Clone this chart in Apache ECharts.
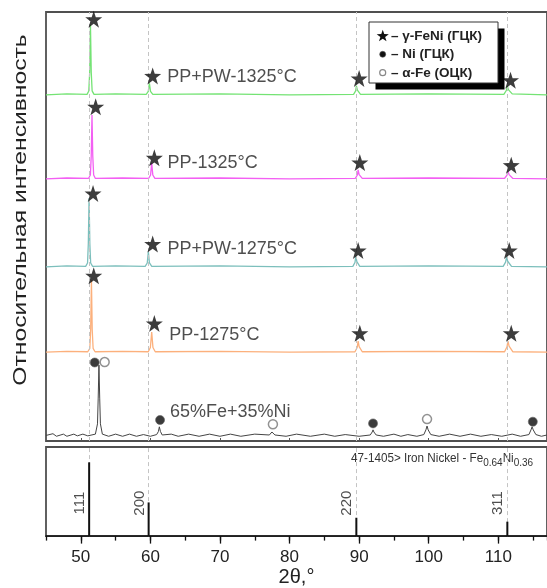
<!DOCTYPE html>
<html><head><meta charset="utf-8">
<script src="https://cdn.jsdelivr.net/npm/echarts@6/dist/echarts.min.js"></script>
<style>html,body{margin:0;padding:0;background:#fff}#c{width:547px;height:588px}</style>
</head><body><div id="c"></div>
<script>
// ---------- DATA ----------
const xTickLabels = [50, 60, 70, 80, 90, 100, 110];
const traceNames = ['PP+PW-1325°C', 'PP-1325°C', 'PP+PW-1275°C', 'PP-1275°C', '65%Fe+35%Ni'];

const tracePPPW1325 = [[45,80.7],[48,80.9],[50.9,80.8],[51.15,81.6],[51.28,86],[51.39,97.0],[51.5,86],[51.63,81.6],[51.9,80.8],[55,80.9],
  [59.4,80.8],[59.7,81.5],[59.86,83.4],[60.02,81.5],[60.35,80.8],[70,80.9],[80,80.7],
  [89.2,80.8],[89.5,81.6],[89.61,82.8],[89.75,81.8],[90.2,80.8],[100,80.9],
  [110.8,80.8],[111.15,81.7],[111.29,82.8],[111.45,81.9],[112.0,80.9],[117,80.7]];
const tracePP1325 = [[45,61.1],[48,61.3],[51.1,61.2],[51.38,62],[51.5,66.5],[51.61,76.0],[51.72,66.5],[51.85,62],[52.1,61.2],[56,61.3],
  [59.75,61.2],[60.03,62],[60.19,64.8],[60.35,62],[60.65,61.2],[70,61.3],[80,61.1],
  [89.45,61.2],[89.75,62],[89.86,63.2],[90.0,62.1],[90.45,61.2],[100,61.3],
  [110.9,61.2],[111.25,62],[111.39,62.9],[111.55,62.1],[112.1,61.2],[117,61.1]];
const tracePPPW1275 = [[45,40.6],[48,40.8],[50.7,40.7],[50.97,41.5],[51.08,46],[51.19,56.6],[51.3,46],[51.42,41.5],[51.7,40.7],[55,40.8],
  [59.25,40.7],[59.55,41.5],[59.71,44.1],[59.87,41.5],[60.2,40.7],[70,40.8],[80,40.6],
  [89.1,40.7],[89.4,41.6],[89.53,43.1],[89.67,41.8],[90.1,40.7],[100,40.8],
  [110.7,40.7],[111.05,41.7],[111.19,42.9],[111.35,41.9],[111.9,40.7],[117,40.6]];
const tracePP1275 = [[45,20.7],[48,20.9],[51.0,20.8],[51.3,21.6],[51.42,26],[51.53,37.5],[51.64,26],[51.77,21.6],[52.05,20.8],[56,20.9],
  [59.7,20.8],[60.0,21.8],[60.19,25.4],[60.37,21.8],[60.7,20.8],[70,20.9],[80,20.7],
  [89.4,20.8],[89.72,21.8],[89.86,23.3],[90.0,22.0],[90.45,20.8],[100,20.9],
  [110.9,20.8],[111.24,21.9],[111.39,23.3],[111.55,22.1],[112.1,20.8],[117,20.7]];
const traceFeNi = [[45,1.3],[46,1.7],[46.5,1.1],[47.5,1.6],[48,1.1],[49,1.6],[49.5,1.2],[50.3,1.6],[51,1.2],[52.1,1.6],[52.4,4],[52.5,10],[52.61,17.7],[52.72,10],[52.82,4],[53.1,1.6],
  [54,1.1],[55,1.6],[56,1.1],[57,1.6],[58,1.1],[59,1.5],[60,1.1],[60.9,1.5],[61.15,2.2],[61.29,3.3],[61.45,2.2],[61.7,1.4],[63,1.6],[64,1.1],[65.5,1.6],[67,1.1],[68.5,1.6],[70,1.1],[71.5,1.6],[73,1.1],[75,1.6],
  [77.1,1.4],[77.35,1.8],[77.47,2.1],[77.6,1.8],[77.9,1.4],[79.5,1.1],[81,1.6],[83,1.1],[85,1.6],[86.5,1.1],[88,1.5],[90,1.1],
  [91.6,1.4],[91.88,2.1],[92.0,2.6],[92.12,2.1],[92.45,1.4],[93.5,1.1],[95,1.6],[96,1.1],[97,1.5],[98.3,1.1],
  [99.3,1.5],[99.6,2.6],[99.76,3.5],[99.92,2.6],[100.3,1.5],[101.5,1.1],[103,1.6],[104.5,1.1],[106,1.6],[107.5,1.1],[109,1.5],[110.5,1.1],[112,1.6],[113.2,1.1],
  [114.4,1.5],[114.7,2.6],[114.86,3.3],[115.02,2.6],[115.4,1.5],[116.2,1.1],[117,1.4]];

// phase markers (as drawn on the picture)
const starPoints = [[51.86,98.3],[60.33,85.1],[90.0,84.5],[111.76,84.1],
  [52.14,77.9],[60.57,66.0],[90.1,64.9],[111.86,64.3],
  [51.76,57.7],[60.33,45.9],[89.86,44.4],[111.57,44.4],
  [51.86,38.5],[60.57,27.4],[90.1,25.1],[111.86,25.1]];
const niPoints = [[52.0,18.3],[61.39,4.9],[92.0,4.1],[114.96,4.5]];
const fePoints = [[53.43,18.4],[77.61,3.9],[99.76,5.1]];

// reference card 47-1405 Fe0.64Ni0.36
const stickPos = [51.2, 59.75, 89.6, 111.3];
const stickHeights = [82.8, 37.8, 20.6, 16.2];
const hklLabels = ['111', '200', '220', '311'];

const legendTexts = ['– γ-FeNi (ГЦК)', '– Ni (ГЦК)', '– α-Fe (ОЦК)'];
const phaseNames = ['γ-FeNi (ГЦК)', 'Ni (ГЦК)', 'α-Fe (ОЦК)'];

// ---------- LAYOUT / STYLE ----------
const traceColors = ['#74e374', '#f35ff3', '#7cbfbc', '#fcb07c', '#444444'];
const traces = [tracePPPW1325, tracePP1325, tracePPPW1275, tracePP1275, traceFeNi];
const nameAnchors = [[62.43,84.8],[62.47,64.8],[62.47,44.7],[62.71,24.7],[62.81,6.8]];
const HKL_Y = 37;
const FONT = '"Liberation Sans", Arial, sans-serif';
const STAR_PTS = [[50,2],[61.8,36.9],[98.6,37.3],[69.1,59.2],[80.1,94.3],[50,73],[19.9,94.3],[30.9,59.2],[1.4,37.3],[38.2,36.9]];
const STAR = 'path://M' + STAR_PTS.map(p => p.join(',')).join(' L') + ' Z';

const chart = echarts.init(document.getElementById('c'), null, {renderer: 'canvas'});

const dashLines = {
  silent: true, symbol: 'none', label: {show: false},
  lineStyle: {type: [4, 3], color: '#c4c4c4', width: 1},
  data: stickPos.map(v => ({xAxis: v}))
};

const series = [];
series.push({
  name: 'refTop', type: 'line', xAxisIndex: 0, yAxisIndex: 0, data: [], z: 1, silent: true, markLine: dashLines
});
series.push({
  name: 'refBottom', type: 'line', xAxisIndex: 1, yAxisIndex: 1, data: [], z: 1, silent: true, markLine: dashLines
});
traces.forEach((t, i) => {
  series.push({
    name: traceNames[i], type: 'line', xAxisIndex: 0, yAxisIndex: 0,
    data: t, showSymbol: false, symbol: 'none', smooth: false,
    lineStyle: {color: traceColors[i], width: i === 4 ? 1 : 1.3}, z: 2, silent: true
  });
});
series.push({
  name: 'labels', type: 'scatter', xAxisIndex: 0, yAxisIndex: 0, symbolSize: 0, silent: true,
  data: nameAnchors.map((p, i) => ({value: p, name: traceNames[i]})),
  label: {show: true, position: 'right', distance: 0, formatter: p => p.name,
    fontFamily: FONT, fontSize: 18, color: '#222'}, z: 5
});
series.push({
  name: phaseNames[0], type: 'scatter', xAxisIndex: 0, yAxisIndex: 0, silent: true,
  symbol: STAR, symbolSize: 17, data: starPoints, itemStyle: {color: '#0d0d0d'}, z: 6
});
series.push({
  name: phaseNames[1], type: 'scatter', xAxisIndex: 0, yAxisIndex: 0, silent: true,
  symbol: 'circle', symbolSize: 9, data: niPoints, itemStyle: {color: '#0a0a0a', borderColor: '#666', borderWidth: 0.8}, z: 6
});
series.push({
  name: phaseNames[2], type: 'scatter', xAxisIndex: 0, yAxisIndex: 0, silent: true,
  symbol: 'circle', symbolSize: 9, data: fePoints, itemStyle: {color: '#fff', borderColor: '#777', borderWidth: 1.5}, z: 6
});
series.push({
  name: '47-1405', type: 'bar', xAxisIndex: 1, yAxisIndex: 1, barWidth: 2, silent: true,
  data: stickPos.map((v, i) => [v, stickHeights[i]]), itemStyle: {color: '#111'}, z: 5
});
series.push({
  name: 'hkl', type: 'scatter', xAxisIndex: 1, yAxisIndex: 1, symbolSize: 0, silent: true,
  data: stickPos.map((v, i) => ({value: [v, HKL_Y], name: hklLabels[i]})),
  label: {show: true, position: [-9, 0], rotate: 90, align: 'center', verticalAlign: 'middle',
    formatter: p => p.name, fontFamily: FONT, fontSize: 15, color: '#222'}, z: 5
});

const legendStar = STAR_PTS.map(p => [376.5 + p[0] * 0.125, 29.5 + p[1] * 0.125]);

const option = {
  animation: false,
  backgroundColor: '#fff',
  grid: [
    {left: 46, top: 12, width: 504, height: 429, show: true, borderColor: '#505050', borderWidth: 1.8, backgroundColor: 'transparent'},
    {left: 46, top: 447, width: 504, height: 97, show: true, borderColor: '#505050', borderWidth: 1.8, backgroundColor: 'transparent'}
  ],
  xAxis: [
    {type: 'value', gridIndex: 0, min: 45, max: 117, position: 'bottom',
      axisLine: {show: false}, splitLine: {show: false},
      axisTick: {show: true, inside: true, length: 3, customValues: xTickLabels, lineStyle: {color: '#555'}},
      axisLabel: {show: false}},
    {type: 'value', gridIndex: 1, min: 45, max: 117, interval: 5, position: 'bottom',
      axisLine: {show: true, lineStyle: {color: '#111', width: 1.5}}, splitLine: {show: false},
      axisTick: {show: true, length: 4.5, lineStyle: {color: '#111', width: 1.3}},
      axisLabel: {show: true, customValues: xTickLabels, margin: 13, fontFamily: FONT, fontSize: 17, color: '#222'},
      name: '2θ,°', nameLocation: 'middle', nameGap: 30,
      nameTextStyle: {fontFamily: FONT, fontSize: 20, color: '#222'}},
    {type: 'value', gridIndex: 1, min: 45, max: 117, position: 'bottom',
      axisLine: {show: false}, splitLine: {show: false},
      axisTick: {show: true, length: 7.5, customValues: xTickLabels, lineStyle: {color: '#111', width: 1.3}},
      axisLabel: {show: false}}
  ],
  yAxis: [
    {type: 'value', gridIndex: 0, min: 0, max: 100, show: false},
    {type: 'value', gridIndex: 1, min: 0, max: 100, show: false}
  ],
  series: series,
  graphic: [
    {type: 'text', x: 21, y: 210, rotation: Math.PI / 2, scaleX: 1.37,
      style: {text: 'Относительная интенсивность', font: '18px ' + FONT, fill: '#222',
        textAlign: 'center', textVerticalAlign: 'middle', align: 'center', verticalAlign: 'middle'}},
    {type: 'text', x: 351, y: 458, scaleY: 1.12,
      style: {text: '47-1405> Iron Nickel - Fe{s|0.64}Ni{s|0.36}', fontFamily: FONT,
        fontSize: 11.7, fill: '#333', textVerticalAlign: 'middle', verticalAlign: 'middle',
        rich: {s: {fontSize: 10, padding: [9, 0, 0, 0], fontFamily: FONT, fill: '#333'}}}},
    {type: 'rect', shape: {x: 375.5, y: 28.5, width: 129, height: 61}, style: {fill: '#000'}, z: 100},
    {type: 'rect', shape: {x: 369, y: 22, width: 129, height: 61}, style: {fill: '#fff', stroke: '#333', lineWidth: 1}, z: 101},
    {type: 'polygon', shape: {points: legendStar}, style: {fill: '#111'}, z: 102},
    {type: 'circle', shape: {cx: 382.7, cy: 54.3, r: 3}, style: {fill: '#111', stroke: '#555', lineWidth: 0.6}, z: 102},
    {type: 'circle', shape: {cx: 382.7, cy: 72.7, r: 3}, style: {fill: '#fff', stroke: '#888', lineWidth: 1.2}, z: 102},
    {type: 'text', x: 391, y: 36, z: 102, style: {text: legendTexts[0], font: 'bold 13.5px ' + FONT, fill: '#222', textVerticalAlign: 'middle', verticalAlign: 'middle'}},
    {type: 'text', x: 391, y: 54.5, z: 102, style: {text: legendTexts[1], font: 'bold 13.5px ' + FONT, fill: '#222', textVerticalAlign: 'middle', verticalAlign: 'middle'}},
    {type: 'text', x: 391, y: 73, z: 102, style: {text: legendTexts[2], font: 'bold 13.5px ' + FONT, fill: '#222', textVerticalAlign: 'middle', verticalAlign: 'middle'}}
  ]
};
chart.setOption(option);
</script>
</body></html>
